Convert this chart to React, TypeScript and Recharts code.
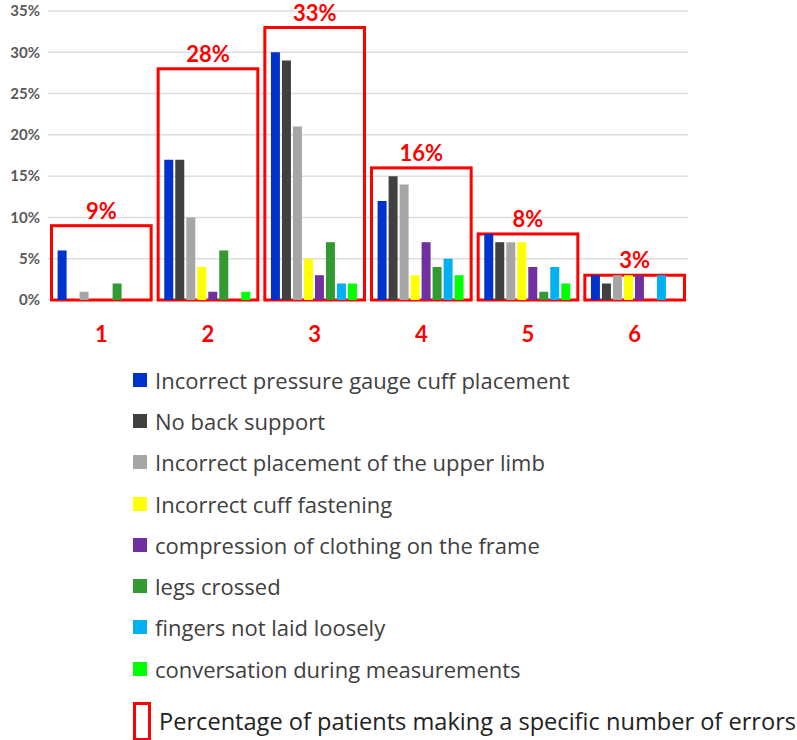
import { BarChart, Bar, XAxis, YAxis, CartesianGrid, ReferenceArea, Legend } from 'recharts';

// number of errors made by a patient
const GROUPS = ['1', '2', '3', '4', '5', '6'];
// share of patients making that number of errors (red boxes)
const GROUP_TOTALS = [9, 28, 33, 16, 8, 3];

const cuffPlacement = [6, 17, 30, 12, 8, 3];
const noBackSupport = [0, 17, 29, 15, 7, 2];
const upperLimb = [1, 10, 21, 14, 7, 3];
const cuffFastening = [0, 4, 5, 3, 7, 3];
const clothing = [0, 1, 3, 7, 4, 3];
const legsCrossed = [2, 6, 7, 4, 1, 0];
const fingers = [0, 0, 2, 5, 4, 3];
const conversation = [0, 1, 2, 3, 2, 0];

const Y_TICKS = [0, 5, 10, 15, 20, 25, 30, 35];

const SERIES = [
  { key: 'cuff', name: 'Incorrect pressure gauge cuff placement', color: '#0033cc', values: cuffPlacement },
  { key: 'back', name: 'No back support', color: '#404040', values: noBackSupport },
  { key: 'limb', name: 'Incorrect placement of the upper limb', color: '#a6a6a6', values: upperLimb },
  { key: 'fasten', name: 'Incorrect cuff fastening', color: '#ffff00', values: cuffFastening },
  { key: 'clothing', name: 'compression of clothing on the frame', color: '#7030a0', values: clothing },
  { key: 'legs', name: 'legs crossed', color: '#339933', values: legsCrossed },
  { key: 'fingers', name: 'fingers not laid loosely', color: '#00b0f0', values: fingers },
  { key: 'talk', name: 'conversation during measurements', color: '#00ff00', values: conversation },
];

const BOX_LEGEND = 'Percentage of patients making a specific number of errors';
const RED = '#ff0000';
const FONT = 'Lato, "Open Sans", sans-serif';
const LEGEND_FONT = '"Open Sans", Lato, sans-serif';

const data = GROUPS.map((g, i) => {
  const row: any = { name: g, total: GROUP_TOTALS[i] };
  SERIES.forEach(s => { row[s.key] = s.values[i]; });
  return row;
});

const BoxShape = (props: any) => {
  const { x, y, width, height } = props;
  const inset = 3.5;
  return (
    <rect
      x={x + inset}
      y={y}
      width={width - inset * 2}
      height={height}
      fill="none"
      stroke={RED}
      strokeWidth={3}
    />
  );
};

const renderLegend = (props: any) => {
  const items = [...(props.payload || [])].sort(
    (a: any, b: any) => SERIES.findIndex(s => s.name === a.value) - SERIES.findIndex(s => s.name === b.value)
  );
  return (
    <div style={{ fontFamily: LEGEND_FONT, fontSize: 22, color: '#404040', whiteSpace: 'nowrap' }}>
      {items.map((entry: any) => (
        <div key={entry.value} style={{ display: 'flex', alignItems: 'center', height: 41.3 }}>
          <span style={{ display: 'inline-block', width: 14, height: 14, background: entry.color, marginRight: 8 }} />
          <span>{entry.value}</span>
        </div>
      ))}
      <div style={{ display: 'flex', alignItems: 'center', height: 64 }}>
        <span style={{ display: 'inline-block', width: 12, height: 33, border: `3px solid ${RED}`, marginRight: 8 }} />
        <span style={{ color: '#222', fontSize: 23.6 }}>{BOX_LEGEND}</span>
      </div>
    </div>
  );
};

export default function App() {
  return (
    <div style={{ position: 'absolute', left: 0, top: 0, width: 797, height: 740, background: '#fff' }}>
      <BarChart
        width={797}
        height={740}
        data={data}
        margin={{ top: 11, right: 109, left: 0, bottom: 380 }}
        barCategoryGap="9%"
        barGap={2}
      >
        <CartesianGrid vertical={false} stroke="#dedede" strokeWidth={1.5} />
        <XAxis
          dataKey="name"
          axisLine={false}
          tickLine={false}
          height={60}
          tickMargin={20}
          tick={{ fill: RED, fontSize: 22, fontWeight: 'bold', fontFamily: FONT }}
        />
        <YAxis
          width={48}
          domain={[0, 35]}
          ticks={Y_TICKS}
          axisLine={false}
          tickLine={false}
          tickFormatter={(v: number) => `${v}%`}
          tick={{ fill: '#595959', fontSize: 15, fontWeight: 'bold', fontFamily: FONT }}
        />
        {SERIES.map(s => (
          <Bar key={s.key} dataKey={s.key} name={s.name} fill={s.color} isAnimationActive={false} />
        ))}
        {GROUPS.map((g, i) => (
          <ReferenceArea
            key={g}
            x1={g}
            x2={g}
            y1={0}
            y2={GROUP_TOTALS[i]}
            shape={BoxShape}
            label={{
              value: `${GROUP_TOTALS[i]}%`,
              position: 'top',
              offset: 7,
              fill: RED,
              fontSize: 22,
              fontWeight: 'bold',
              fontFamily: FONT,
            }}
          />
        ))}
        <Legend
          layout="vertical"
          align="center"
          verticalAlign="middle"
          content={renderLegend}
          wrapperStyle={{ top: 359, left: 133, width: 664 }}
        />
      </BarChart>
    </div>
  );
}
